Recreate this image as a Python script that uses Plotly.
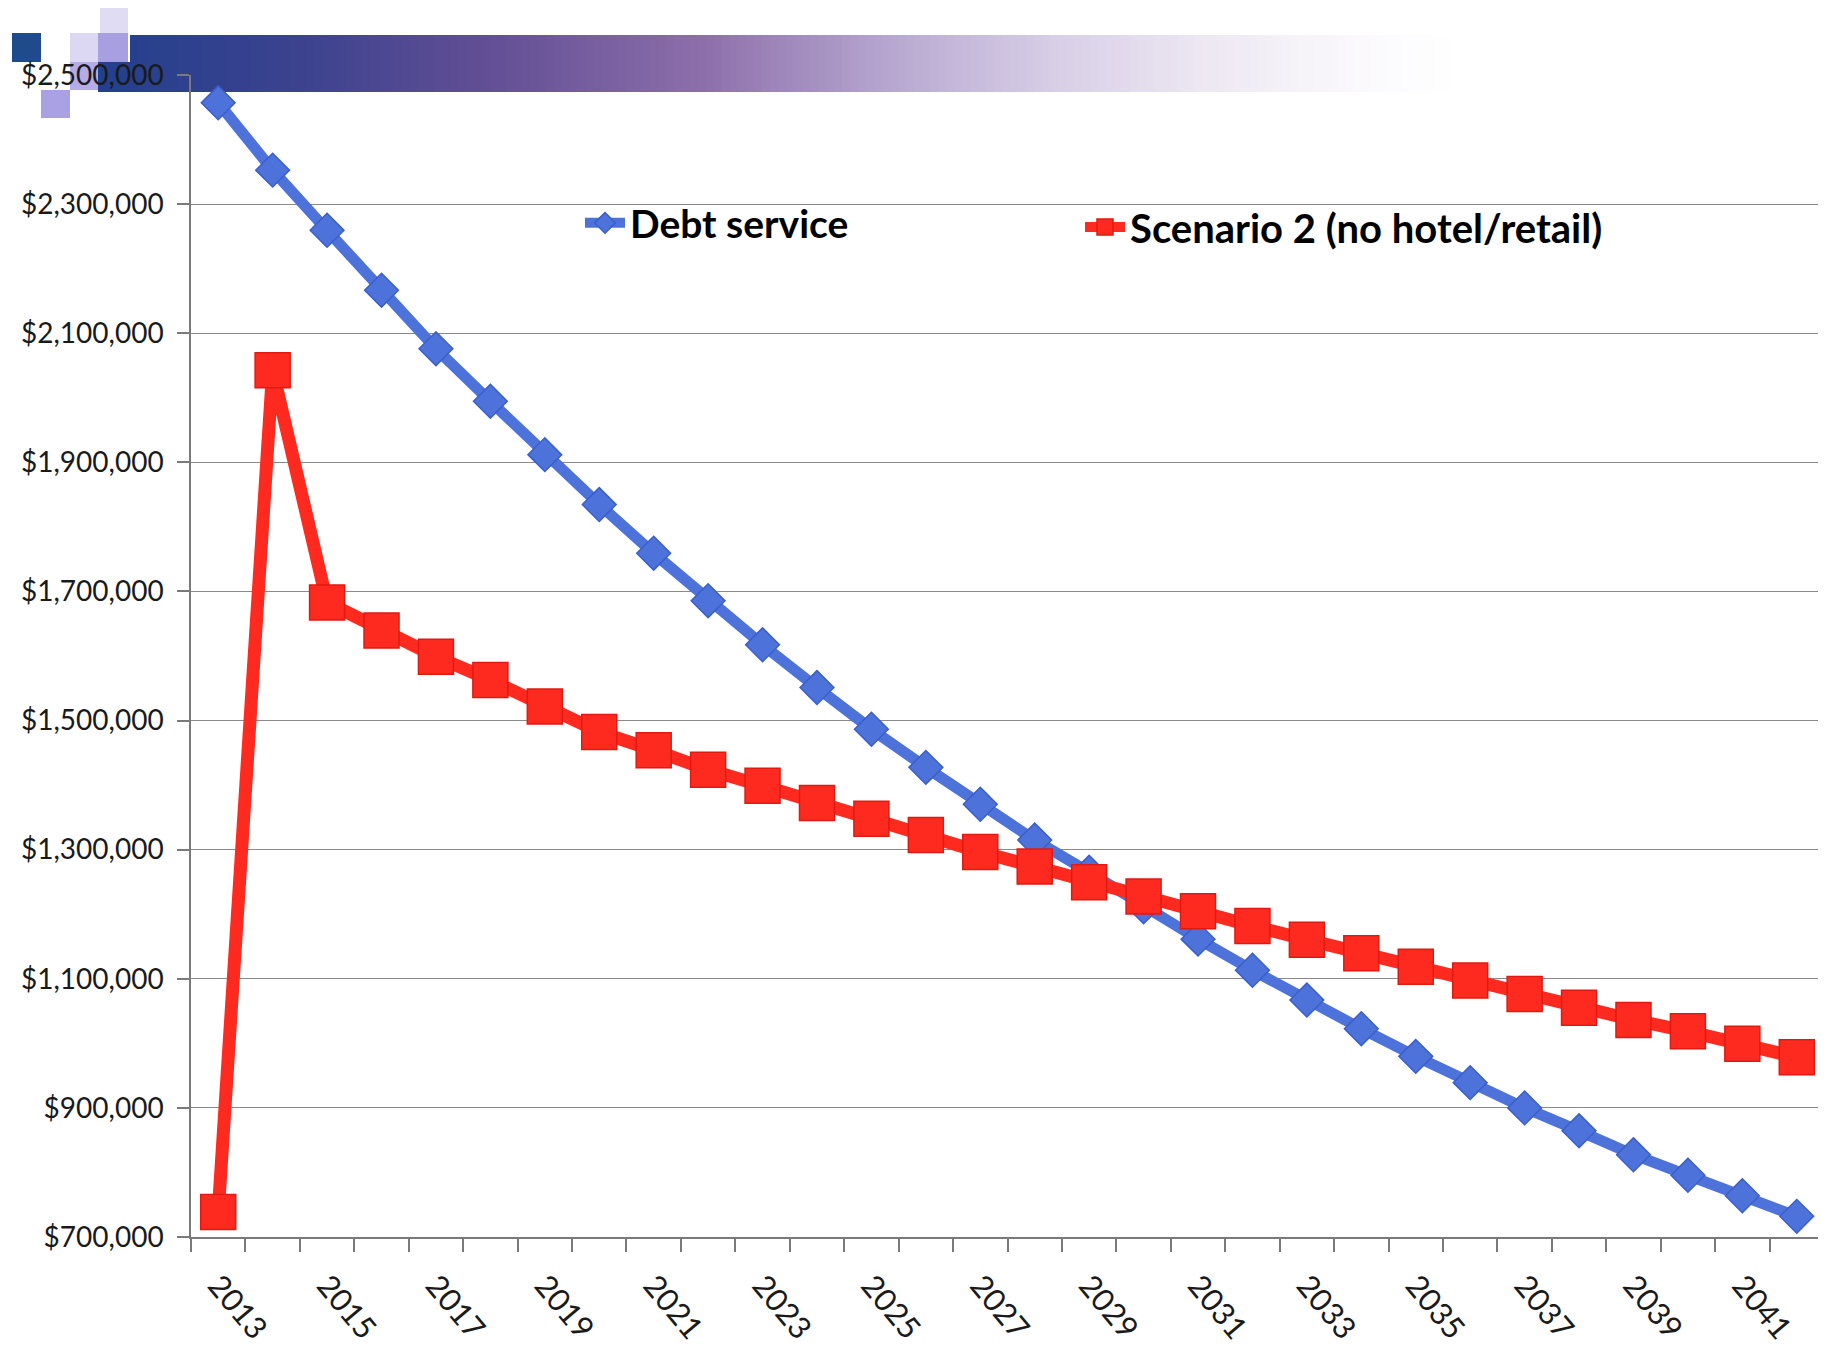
import plotly.graph_objects as go

years = list(range(2013, 2043))
debt_service = [2457000, 2352600, 2259400, 2166600, 2076000, 1994500, 1911900, 1834600,
                1759200, 1685600, 1617400, 1551100, 1486600, 1427500, 1370300, 1314900,
                1265000, 1211400, 1161400, 1113300, 1067000, 1022600, 979800, 939100,
                900000, 864500, 827400, 795600, 763800, 732000]
scenario2 = [738700, 2042500, 1683000, 1639500, 1599000, 1562800, 1521700, 1482400,
             1454000, 1423800, 1399000, 1372400, 1347700, 1322900, 1296400, 1273800,
             1249700, 1227600, 1204600, 1181800, 1160600, 1139600, 1118500, 1097500,
             1076400, 1055300, 1036100, 1018600, 999500, 978400]
label_years = [y for y in years if y % 2 == 1]
y_ticks = [700000, 900000, 1100000, 1300000, 1500000, 1700000, 1900000, 2100000, 2300000, 2500000]
y_tick_text = ["${:,}".format(v) for v in y_ticks]

W, H = 1826, 1352
OFF = 8  # page body margin
# target plot-area edges in page pixels
PL, PR, PT, PB = 191, 1824, 75, 1237
L, T = PL - OFF, PT - OFF
R = W - (PR - OFF)
B = H - (PB - OFF)
PW, PH = W - L - R, H - T - B

def px(x):
    return (x - OFF - L) / PW

def py(y):
    return (H - B - (y - OFF)) / PH

FONT = "Lato"

fig = go.Figure()
fig.add_trace(go.Scatter(
    x=years, y=debt_service, name="Debt service", mode="lines+markers",
    line=dict(color="#4d72da", width=11),
    marker=dict(symbol="diamond", size=26, color="#4d72da", line=dict(color="#3a5fcc", width=1.5)),
    legend="legend"))
fig.add_trace(go.Scatter(
    x=years, y=scenario2, name="Scenario 2 (no hotel/retail)", mode="lines+markers",
    line=dict(color="#ff2a1f", width=13),
    marker=dict(symbol="square", size=35, color="#ff2a1f", line=dict(color="#e01a10", width=1.5)),
    legend="legend2"))

# header banner decoration (gradient bar + squares)
stops = [(98, (34, 64, 142)), (300, (60, 66, 142)), (500, (100, 80, 150)), (700, (140, 110, 170)),
         (900, (185, 170, 210)), (1050, (215, 205, 230)), (1200, (236, 231, 242)),
         (1350, (250, 248, 252)), (1460, (255, 255, 255))]
shapes = []
def col_at(x):
    for (x0, c0), (x1, c1) in zip(stops[:-1], stops[1:]):
        if x0 <= x <= x1:
            t = (x - x0) / (x1 - x0)
            return "rgb(%d,%d,%d)" % tuple(round(a + (b - a) * t) for a, b in zip(c0, c1))
    return "rgb(255,255,255)"
step = 8
x = 98
while x < 1460:
    y_top = 35 if x >= 128 else 62
    shapes.append(dict(type="rect", xref="paper", yref="paper", layer="below",
                       x0=px(x), x1=px(x + step + 0.6), y0=py(92), y1=py(y_top),
                       fillcolor=col_at(x + step / 2), line=dict(width=0)))
    x += step
for (x0, x1, y0, y1, c) in [(12, 41, 33, 62, "#1f4a8c"),
                            (70, 98, 33, 62, "#dcd8f4"),
                            (98, 128, 33, 62, "#a89fe0"),
                            (100, 128, 7, 33, "#e0dcf4"),
                            (70, 98, 62, 90, "#b4abe8"),
                            (41, 70, 90, 118, "#aaa0e4")]:
    shapes.append(dict(type="rect", xref="paper", yref="paper", layer="below",
                       x0=px(x0), x1=px(x1), y0=py(y1), y1=py(y0),
                       fillcolor=c, line=dict(width=0)))

fig.update_layout(
    width=W, height=H,
    margin=dict(l=L, r=R, t=T, b=B),
    paper_bgcolor="white", plot_bgcolor="white",
    font=dict(family=FONT, color="#1a1a1a"),
    shapes=shapes,
    showlegend=True,
    legend=dict(x=px(580), y=py(223), xanchor="left", yanchor="middle", orientation="h",
                bgcolor="rgba(0,0,0,0)", font=dict(family=FONT, size=39, color="black", weight="bold"),
                itemwidth=40),
    legend2=dict(x=px(1080), y=py(227), xanchor="left", yanchor="middle", orientation="h",
                 bgcolor="rgba(0,0,0,0)", font=dict(family=FONT, size=40, color="black", weight="bold"),
                 itemwidth=40),
    xaxis=dict(range=[2012.5, 2042.5], tickmode="array", tickvals=label_years,
               ticktext=[str(v) for v in label_years], tickangle=50, ticks="",
               tickfont=dict(family=FONT, size=31, color="#1a1a1a"),
               showline=True, linecolor="#7a7a7a", linewidth=1.5, showgrid=False, zeroline=False,
               ticklabelstandoff=16,
               minor=dict(tick0=2012.5, dtick=1, ticks="outside", ticklen=13,
                          tickcolor="#7a7a7a", tickwidth=1.5, showgrid=False)),
    yaxis=dict(range=[700000, 2500000], tickmode="array", tickvals=y_ticks,
               ticktext=y_tick_text, ticks="outside", ticklen=12,
               tickcolor="#7a7a7a", tickwidth=1.5,
               tickfont=dict(family=FONT, size=28, color="#1a1a1a"),
               showline=True, linecolor="#7a7a7a", linewidth=1.5,
               showgrid=True, gridcolor="#8a8a8a", gridwidth=1.4, zeroline=False,
               ticklabelstandoff=8),
)

fig.write_html("out.html")
